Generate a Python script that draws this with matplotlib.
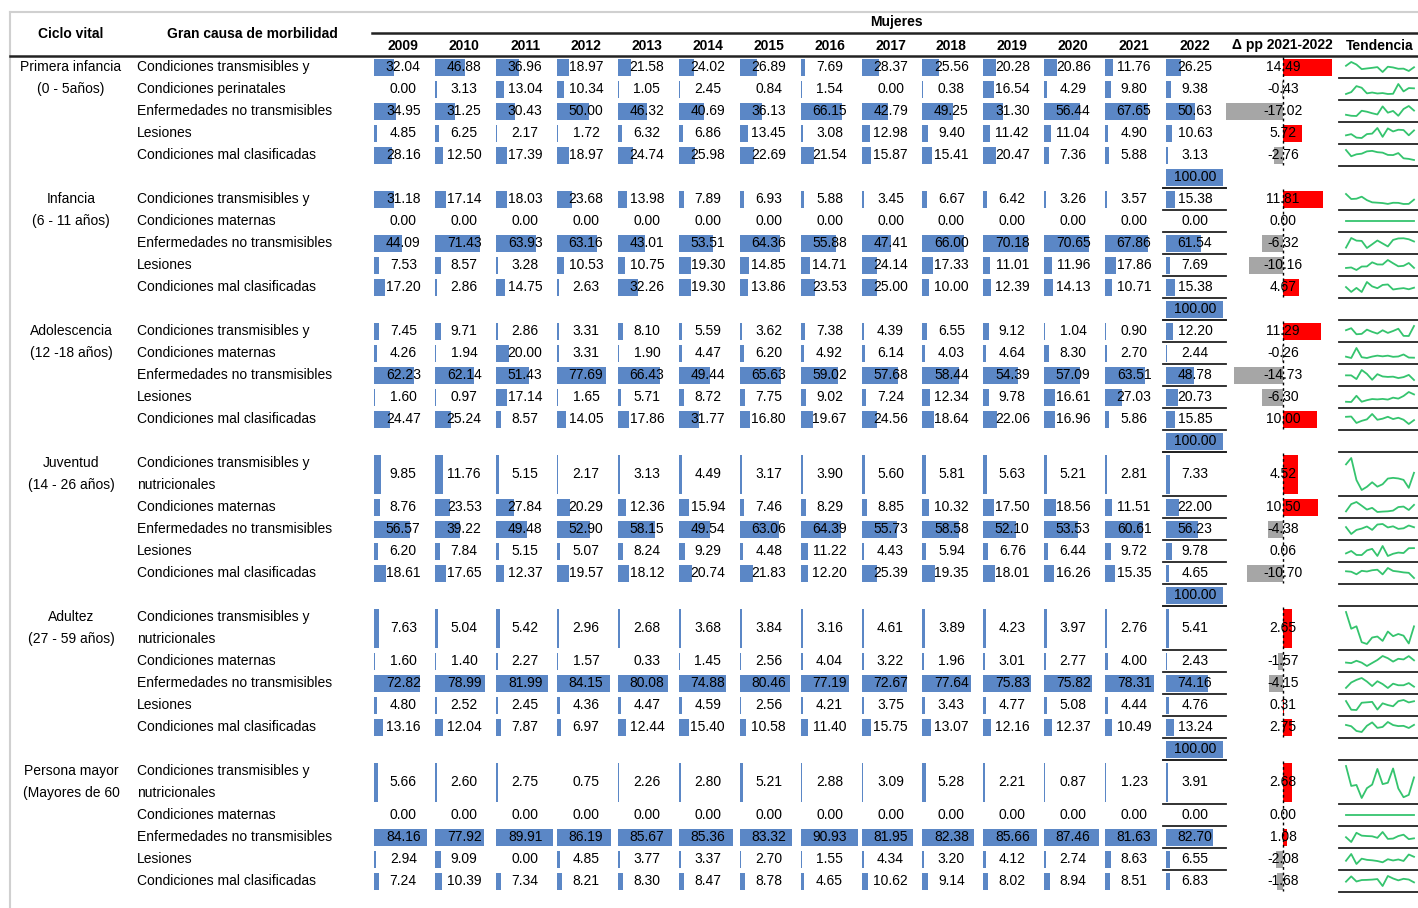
import matplotlib
matplotlib.use("Agg")
import matplotlib.pyplot as plt
from matplotlib import font_manager
import numpy as np

# ---- data ----
years = ["2009", "2010", "2011", "2012", "2013", "2014", "2015",
         "2016", "2017", "2018", "2019", "2020", "2021", "2022"]

ciclo = [("Primera infancia", "(0 - 5años)"),
         ("Infancia", "(6 - 11 años)"),
         ("Adolescencia", "(12 -18 años)"),
         ("Juventud", "(14 - 26 años)"),
         ("Adultez", "(27 - 59 años)"),
         ("Persona mayor", "(Mayores de 60")]

causas_1 = ["Condiciones transmisibles y", "Condiciones perinatales",
            "Enfermedades no transmisibles", "Lesiones",
            "Condiciones mal clasificadas"]
causas = ["Condiciones transmisibles y", "Condiciones maternas",
          "Enfermedades no transmisibles", "Lesiones",
          "Condiciones mal clasificadas"]

primera_infancia = [
    [32.04, 46.88, 36.96, 18.97, 21.58, 24.02, 26.89, 7.69, 28.37, 25.56, 20.28, 20.86, 11.76, 26.25],
    [0.00, 3.13, 13.04, 10.34, 1.05, 2.45, 0.84, 1.54, 0.00, 0.38, 16.54, 4.29, 9.80, 9.38],
    [34.95, 31.25, 30.43, 50.00, 46.32, 40.69, 36.13, 66.15, 42.79, 49.25, 31.30, 56.44, 67.65, 50.63],
    [4.85, 6.25, 2.17, 1.72, 6.32, 6.86, 13.45, 3.08, 12.98, 9.40, 11.42, 11.04, 4.90, 10.63],
    [28.16, 12.50, 17.39, 18.97, 24.74, 25.98, 22.69, 21.54, 15.87, 15.41, 20.47, 7.36, 5.88, 3.13]]
infancia = [
    [31.18, 17.14, 18.03, 23.68, 13.98, 7.89, 6.93, 5.88, 3.45, 6.67, 6.42, 3.26, 3.57, 15.38],
    [0.00] * 14,
    [44.09, 71.43, 63.93, 63.16, 43.01, 53.51, 64.36, 55.88, 47.41, 66.00, 70.18, 70.65, 67.86, 61.54],
    [7.53, 8.57, 3.28, 10.53, 10.75, 19.30, 14.85, 14.71, 24.14, 17.33, 11.01, 11.96, 17.86, 7.69],
    [17.20, 2.86, 14.75, 2.63, 32.26, 19.30, 13.86, 23.53, 25.00, 10.00, 12.39, 14.13, 10.71, 15.38]]
adolescencia = [
    [7.45, 9.71, 2.86, 3.31, 8.10, 5.59, 3.62, 7.38, 4.39, 6.55, 9.12, 1.04, 0.90, 12.20],
    [4.26, 1.94, 20.00, 3.31, 1.90, 4.47, 6.20, 4.92, 6.14, 4.03, 4.64, 8.30, 2.70, 2.44],
    [62.23, 62.14, 51.43, 77.69, 66.43, 49.44, 65.63, 59.02, 57.68, 58.44, 54.39, 57.09, 63.51, 48.78],
    [1.60, 0.97, 17.14, 1.65, 5.71, 8.72, 7.75, 9.02, 7.24, 12.34, 9.78, 16.61, 27.03, 20.73],
    [24.47, 25.24, 8.57, 14.05, 17.86, 31.77, 16.80, 19.67, 24.56, 18.64, 22.06, 16.96, 5.86, 15.85]]
juventud = [
    [9.85, 11.76, 5.15, 2.17, 3.13, 4.49, 3.17, 3.90, 5.60, 5.81, 5.63, 5.21, 2.81, 7.33],
    [8.76, 23.53, 27.84, 20.29, 12.36, 15.94, 7.46, 8.29, 8.85, 10.32, 17.50, 18.56, 11.51, 22.00],
    [56.57, 39.22, 49.48, 52.90, 58.15, 49.54, 63.06, 64.39, 55.73, 58.58, 52.10, 53.53, 60.61, 56.23],
    [6.20, 7.84, 5.15, 5.07, 8.24, 9.29, 4.48, 11.22, 4.43, 5.94, 6.76, 6.44, 9.72, 9.78],
    [18.61, 17.65, 12.37, 19.57, 18.12, 20.74, 21.83, 12.20, 25.39, 19.35, 18.01, 16.26, 15.35, 4.65]]
adultez = [
    [7.63, 5.04, 5.42, 2.96, 2.68, 3.68, 3.84, 3.16, 4.61, 3.89, 4.23, 3.97, 2.76, 5.41],
    [1.60, 1.40, 2.27, 1.57, 0.33, 1.45, 2.56, 4.04, 3.22, 1.96, 3.01, 2.77, 4.00, 2.43],
    [72.82, 78.99, 81.99, 84.15, 80.08, 74.88, 80.46, 77.19, 72.67, 77.64, 75.83, 75.82, 78.31, 74.16],
    [4.80, 2.52, 2.45, 4.36, 4.47, 4.59, 2.56, 4.21, 3.75, 3.43, 4.77, 5.08, 4.44, 4.76],
    [13.16, 12.04, 7.87, 6.97, 12.44, 15.40, 10.58, 11.40, 15.75, 13.07, 12.16, 12.37, 10.49, 13.24]]
persona_mayor = [
    [5.66, 2.60, 2.75, 0.75, 2.26, 2.80, 5.21, 2.88, 3.09, 5.28, 2.21, 0.87, 1.23, 3.91],
    [0.00] * 14,
    [84.16, 77.92, 89.91, 86.19, 85.67, 85.36, 83.32, 90.93, 81.95, 82.38, 85.66, 87.46, 81.63, 82.70],
    [2.94, 9.09, 0.00, 4.85, 3.77, 3.37, 2.70, 1.55, 4.34, 3.20, 4.12, 2.74, 8.63, 6.55],
    [7.24, 10.39, 7.34, 8.21, 8.30, 8.47, 8.78, 4.65, 10.62, 9.14, 8.02, 8.94, 8.51, 6.83]]

delta_pp = [[14.49, -0.43, -17.02, 5.72, -2.76],
            [11.81, 0.00, -6.32, -10.16, 4.67],
            [11.29, -0.26, -14.73, -6.30, 10.00],
            [4.52, 10.50, -4.38, 0.06, -10.70],
            [2.65, -1.57, -4.15, 0.31, 2.75],
            [2.68, 0.00, 1.08, -2.08, -1.68]]

grupos = [primera_infancia, infancia, adolescencia, juventud, adultez, persona_mayor]
total = 100.00

# ---- style ----
avail = {f.name for f in font_manager.fontManager.ttflist}
FONT = "Liberation Sans Narrow" if "Liberation Sans Narrow" in avail else "Liberation Sans"
FS = 12 if FONT == "Liberation Sans Narrow" else 10
plt.rcParams['font.family'] = [FONT, 'DejaVu Sans']

BLUE = "#5b87c6"
RED = "#ff0000"
GRAY = "#a6a6a6"
GREEN = "#35c46e"
LINE = "#222222"

fig = plt.figure(figsize=(14.18, 9.08), dpi=100)
ax = fig.add_axes([0, 0, 1, 1])
ax.set_xlim(0, 1418)
ax.set_ylim(908, 0)
ax.axis("off")

RH = 22
y_top = 56
col_left0 = 374.3
col_step = 60.9
px_unit = 0.63       # bar length per percentage point, 2009-2021
px_unit_22 = 0.57    # 2022 column
x_delta = 1283
px_delta = 3.35
spark_x0, spark_x1 = 1346, 1414
x_cause = 137
x_ciclo = 71

# frame and header
ax.plot([10, 1418], [12, 12], color="#d0d0d0", lw=1.5)
ax.plot([10, 10], [12, 908], color="#d0d0d0", lw=1.5)
ax.plot([372, 1418], [33, 33], color=LINE, lw=1.8)
ax.plot([10, 1418], [55.5, 55.5], color=LINE, lw=1.8)
hb = dict(fontsize=FS, fontweight="bold", ha="center", va="center")
ax.text(x_ciclo, 34, "Ciclo vital", **hb)
ax.text(252, 34, "Gran causa de morbilidad", **hb)
ax.text(896, 22, "Mujeres", **hb)
for j, yr in enumerate(years):
    ax.text(col_left0 + col_step * j + 29, 45.5, yr, **hb)
ax.text(1282, 45.5, "Δ pp 2021-2022", **hb)
ax.text(1380, 45.5, "Tendencia", **hb)


def draw_bar(j, yc, h, v):
    left = col_left0 + col_step * j
    unit = px_unit_22 if j == len(years) - 1 else px_unit
    if v > 0:
        ax.barh(yc, v * unit, height=h, left=left, color=BLUE, zorder=1)


def hline(x0, x1, yy):
    ax.plot([x0, x1], [yy, yy], color=LINE, lw=1.3)


y = y_top
for g, datos in enumerate(grupos):
    labels = causas_1 if g == 0 else causas
    g_top = y
    last = g == len(grupos) - 1
    for c in range(5):
        double = (c == 0 and g >= 3)
        h = RH * 2 if double else RH
        yc = y + h / 2
        # labels
        if double:
            ax.text(x_cause, y + RH / 2, labels[c], fontsize=FS, ha="left", va="center")
            ax.text(x_cause, y + RH * 1.5, "nutricionales", fontsize=FS, ha="left", va="center")
        else:
            ax.text(x_cause, yc, labels[c], fontsize=FS, ha="left", va="center")
        if c == 0:
            ax.text(x_ciclo, y + RH / 2, ciclo[g][0], fontsize=FS, ha="center", va="center")
            ax.text(x_ciclo, y + RH * 1.5, ciclo[g][1], fontsize=FS, ha="center", va="center")
        # year values with data bars
        vals = datos[c]
        for j, v in enumerate(vals):
            draw_bar(j, yc, h - 5, v)
            ax.text(col_left0 + col_step * j + 29, yc, f"{v:.2f}", fontsize=FS,
                    ha="center", va="center", zorder=3)
        # delta column
        d = delta_pp[g][c]
        if d != 0:
            ax.barh(yc, d * px_delta, height=h - 5, left=x_delta,
                    color=RED if d > 0 else GRAY, zorder=1)
        ax.text(x_delta, yc, f"{d:.2f}", fontsize=FS, ha="center", va="center", zorder=3)
        # sparkline
        arr = np.array(vals)
        xs = np.linspace(spark_x0, spark_x1, len(arr))
        rng = arr.max() - arr.min()
        if rng > 0:
            ys = (y + h - 6) - (arr - arr.min()) / rng * (h - 12)
        else:
            ys = np.full(len(arr), yc)
        ax.plot(xs, ys, color=GREEN, lw=1.3, zorder=2)
        y += h
        # separators
        hline(1339, 1418, y)
        if g > 0 and not (last and c == 4):
            hline(1163, 1226, y)
        if g > 0 and c == 0:
            hline(1163, 1226, g_top)
    ax.plot([x_delta, x_delta], [g_top + 1, y - 1], color="black", lw=1, ls=(0, (2, 2)), zorder=4)
    if not last:
        yc = y + RH / 2
        draw_bar(len(years) - 1, yc, RH - 5, total)
        ax.text(col_left0 + col_step * (len(years) - 1) + 29, yc, f"{total:.2f}",
                fontsize=FS, ha="center", va="center", zorder=3)
        y += RH
        if g > 0:
            hline(1339, 1418, y)
        hline(1163, 1226, y)

fig.savefig("out.png", dpi=100)
